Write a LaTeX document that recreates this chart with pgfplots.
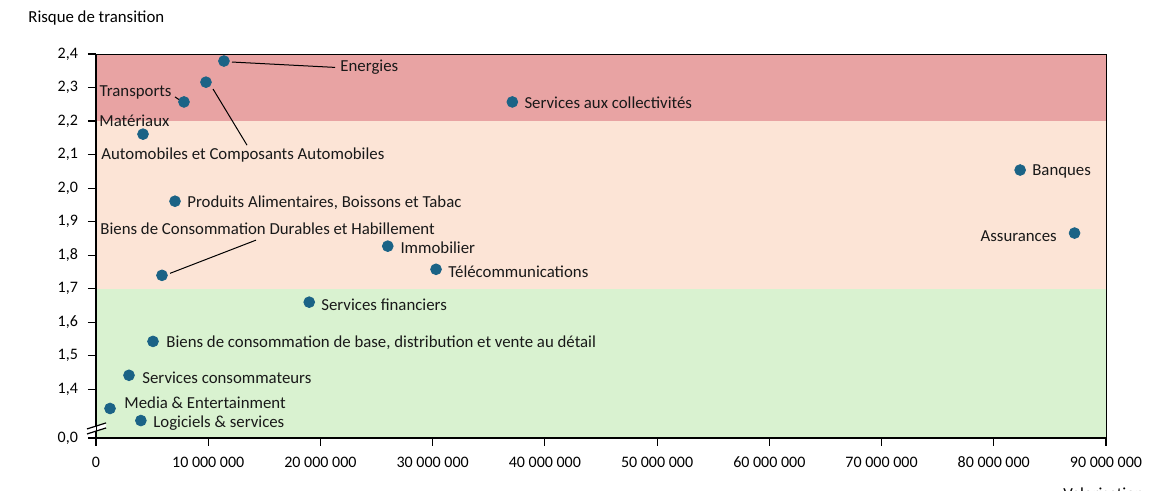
\documentclass[border=0pt]{standalone}
\usepackage{fontspec}
\setmainfont{Carlito}
\usepackage{pgfplots}
\pgfplotsset{compat=1.18}
\definecolor{bandred}{HTML}{E8A3A3}
\definecolor{bandpeach}{HTML}{FCE4D6}
\definecolor{bandgreen}{HTML}{D9F2D0}
\definecolor{dot}{HTML}{1B6386}
\begin{document}
\begin{tikzpicture}[x=1pt,y=1pt]
\begin{axis}[
  at={(0,0)}, anchor=south west,
  scale only axis, width=505pt, height=192pt,
  xmin=0, xmax=90, ymin=1.255, ymax=2.4,
  clip=false, axis on top,
  axis line style={black, line width=0.4pt},
  xtick={0,10,...,90},
  xticklabels={0,10 000 000,20 000 000,30 000 000,40 000 000,50 000 000,60 000 000,70 000 000,80 000 000,90 000 000},
  ytick={1.255,1.4,1.5,1.6,1.7,1.8,1.9,2.0,2.1,2.2,2.3,2.4},
  yticklabels={{0,0},{1,4},{1,5},{1,6},{1,7},{1,8},{1,9},{2,0},{2,1},{2,2},{2,3},{2,4}},
  tick align=outside, major tick length=4pt,
  tick style={black, line width=0.6pt},
  xtick pos=bottom, ytick pos=left,
  ticklabel style={font=\fontsize{8}{9}\selectfont, text=black},
  yticklabel style={xshift=-1.5pt},
  xticklabel style={yshift=-2pt},
]
\addplot[fill=bandred, draw=none] coordinates {(0,2.2) (90,2.2) (90,2.4) (0,2.4)} -- cycle;
\addplot[fill=bandpeach, draw=none] coordinates {(0,1.7) (90,1.7) (90,2.2) (0,2.2)} -- cycle;
\addplot[fill=bandgreen, draw=none] coordinates {(0,1.255) (90,1.255) (90,1.7) (0,1.7)} -- cycle;
\draw[black, line width=0.9pt] (axis cs:0,1.255) -- (axis cs:0,2.4);
\draw[black, line width=0.9pt] (axis cs:0,1.255) -- (axis cs:90,1.255);
\addplot[only marks, mark=*, mark size=2.7pt, mark options={fill=dot, draw=dot}] coordinates {
(11.4,2.379) (9.8,2.316) (7.84,2.257) (37.1,2.257) (4.19,2.161) (82.35,2.054)
(7.04,1.961) (87.2,1.866) (26.0,1.827) (30.3,1.758) (5.88,1.740) (19.0,1.660)
(5.08,1.543) (2.94,1.442) (1.25,1.343) (4.0,1.307)};
\begin{scope}[every node/.style={font=\fontsize{8.4}{10}\selectfont, inner sep=0pt, text=black!90}]
\node[anchor=west] at (axis cs:21.75,2.361) {Energies};
\node[anchor=west] at (axis cs:0.45,2.0985) {Automobiles et Composants Automobiles};
\node[anchor=east] at (axis cs:6.77,2.284) {Transports};
\node[anchor=west] at (axis cs:0.27,2.2) {Matériaux};
\node[anchor=west] at (axis cs:38.15,2.254) {Services aux collectivités};
\node[anchor=west] at (axis cs:83.4,2.051) {Banques};
\node[anchor=west] at (axis cs:8.11,1.955) {Produits Alimentaires, Boissons et Tabac};
\node[anchor=east] at (axis cs:85.65,1.857) {Assurances};
\node[anchor=west] at (axis cs:27.1,1.821) {Immobilier};
\node[anchor=west] at (axis cs:31.37,1.752) {Télécommunications};
\node[anchor=west] at (axis cs:0.36,1.878) {Biens de Consommation Durables et Habillement};
\node[anchor=west] at (axis cs:20.05,1.651) {Services financiers};
\node[anchor=west] at (axis cs:6.24,1.540) {Biens de consommation de base, distribution et vente au détail};
\node[anchor=west] at (axis cs:4.10,1.436) {Services consommateurs};
\node[anchor=west] at (axis cs:2.50,1.361) {Media \& Entertainment};
\node[anchor=west] at (axis cs:5.08,1.298) {Logiciels \& services};
\end{scope}
\draw[black, line width=0.5pt] (axis cs:12.12,2.376) -- (axis cs:21.3,2.36);
\draw[black, line width=0.5pt] (axis cs:10.43,2.2955) -- (axis cs:13.46,2.128);
\draw[black, line width=0.5pt] (axis cs:7.04,2.272) -- (axis cs:7.58,2.260);
\draw[black, line width=0.5pt] (axis cs:6.6,1.746) -- (axis cs:14.26,1.845);
% axis break
\fill[white] (axis cs:-0.8,1.267) -- (axis cs:0.9,1.285) -- (axis cs:0.9,1.30) -- (axis cs:-0.8,1.282) -- cycle;
\draw[black, line width=0.6pt] (axis cs:-0.8,1.282) -- (axis cs:0.9,1.30);
\draw[black, line width=0.6pt] (axis cs:-0.8,1.267) -- (axis cs:0.9,1.285);
\end{axis}
\node[anchor=west, inner sep=0pt, font=\fontsize{8.4}{10}\selectfont] at (-34pt,210pt) {Risque de transition};
\node[anchor=north west, inner sep=0pt, font=\fontsize{8.4}{10}\selectfont] at (483.5pt,-24.5pt) {Valorisation};
\pgfresetboundingbox
\useasboundingbox (-48pt,-26.5pt) rectangle (538.5pt,219pt);
\end{tikzpicture}
\end{document}
